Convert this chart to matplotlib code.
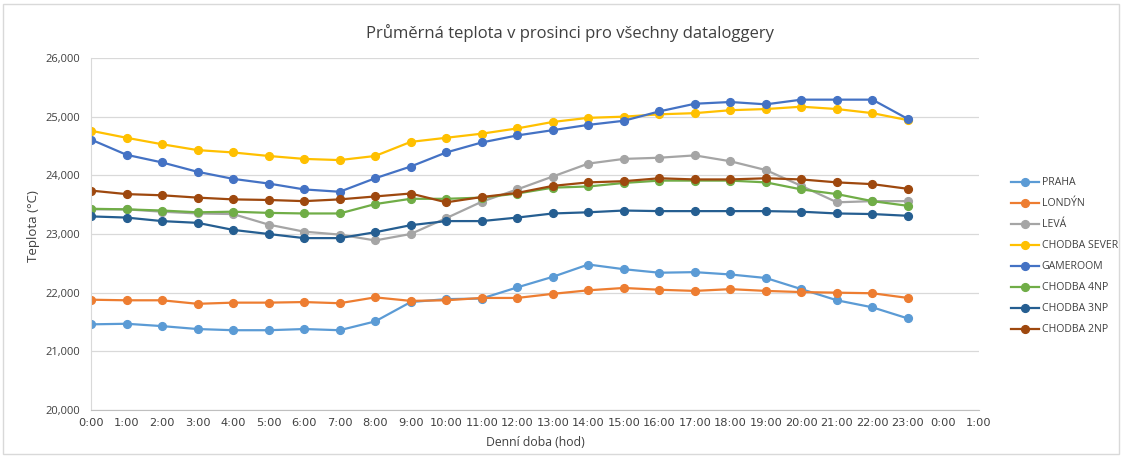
import matplotlib
matplotlib.use("Agg")
import matplotlib.pyplot as plt
from matplotlib.ticker import FixedLocator, FuncFormatter
from matplotlib.patches import Rectangle

HOURS = list(range(24))
TICK_POS = list(range(26))
TICK_LABELS = [f"{h % 24}:00" for h in TICK_POS]

SERIES_NAMES = ["PRAHA", "LONDÝN", "LEVÁ", "CHODBA SEVER", "GAMEROOM",
                "CHODBA 4NP", "CHODBA 3NP", "CHODBA 2NP"]
COLORS = ["#5B9BD5", "#ED7D31", "#A5A5A5", "#FFC000", "#4472C4",
          "#70AD47", "#255E91", "#9E480E"]

# prumerne teploty po hodinach (°C)
praha = [21.46, 21.47, 21.43, 21.38, 21.36, 21.36, 21.38, 21.36, 21.51, 21.84, 21.89, 21.90,
         22.09, 22.27, 22.48, 22.40, 22.34, 22.35, 22.31, 22.25, 22.06, 21.87, 21.75, 21.56]
londyn = [21.88, 21.87, 21.87, 21.81, 21.83, 21.83, 21.84, 21.82, 21.92, 21.86, 21.87, 21.91,
          21.91, 21.98, 22.04, 22.08, 22.05, 22.03, 22.06, 22.03, 22.01, 22.00, 21.99, 21.91]
leva = [23.42, 23.42, 23.38, 23.35, 23.34, 23.16, 23.04, 22.99, 22.89, 23.00, 23.27, 23.55,
        23.76, 23.98, 24.20, 24.28, 24.30, 24.34, 24.24, 24.09, 23.82, 23.54, 23.56, 23.56]
sever = [24.76, 24.64, 24.53, 24.43, 24.39, 24.33, 24.28, 24.26, 24.33, 24.57, 24.64, 24.71,
         24.80, 24.91, 24.98, 25.00, 25.04, 25.06, 25.11, 25.13, 25.17, 25.13, 25.06, 24.94]
gameroom = [24.61, 24.35, 24.22, 24.06, 23.94, 23.86, 23.76, 23.72, 23.95, 24.15, 24.39, 24.56,
            24.68, 24.77, 24.86, 24.93, 25.09, 25.22, 25.25, 25.21, 25.29, 25.29, 25.29, 24.96]
chodba4 = [23.43, 23.42, 23.40, 23.37, 23.38, 23.36, 23.35, 23.35, 23.51, 23.60, 23.60, 23.62,
           23.69, 23.79, 23.81, 23.87, 23.91, 23.91, 23.91, 23.88, 23.76, 23.68, 23.56, 23.48]
chodba3 = [23.30, 23.28, 23.22, 23.19, 23.07, 23.00, 22.93, 22.93, 23.03, 23.15, 23.22, 23.22,
           23.28, 23.35, 23.37, 23.40, 23.39, 23.39, 23.39, 23.39, 23.38, 23.35, 23.34, 23.31]
chodba2 = [23.74, 23.68, 23.66, 23.62, 23.59, 23.58, 23.56, 23.59, 23.64, 23.69, 23.54, 23.63,
           23.70, 23.82, 23.88, 23.90, 23.95, 23.93, 23.93, 23.95, 23.93, 23.88, 23.85, 23.77]

ALL_SERIES = [praha, londyn, leva, sever, gameroom, chodba4, chodba3, chodba2]

W, H = 1122, 458
fig = plt.figure(figsize=(W / 100, H / 100), dpi=100)
ax = fig.add_axes([91 / W, 1 - 410 / H, (979 - 91) / W, (410 - 58) / H])

for name, vals, col in zip(SERIES_NAMES, ALL_SERIES, COLORS):
    ax.plot(HOURS, vals, color=col, lw=1.6, marker="o", ms=5.6, label=name,
            solid_joinstyle="round")

ax.set_xlim(0, 25)
ax.set_ylim(20, 26)
ax.xaxis.set_major_locator(FixedLocator(TICK_POS))
ax.set_xticklabels(TICK_LABELS, family=["Liberation Sans Narrow", "DejaVu Sans"],
                   fontsize=8.2, color="#404040")
ax.yaxis.set_major_locator(FixedLocator([20, 21, 22, 23, 24, 25, 26]))
ax.yaxis.set_major_formatter(FuncFormatter(lambda v, p: f"{v:.3f}".replace(".", ",")))
for lab in ax.get_yticklabels():
    lab.set_family("Open Sans")
    lab.set_fontsize(8)
    lab.set_color("#404040")
ax.tick_params(axis="y", length=0, pad=8)
ax.tick_params(axis="x", length=0, pad=5.5)
ax.grid(axis="y", color="#D9D9D9", lw=0.9)
ax.set_axisbelow(True)
for s in ["top", "right"]:
    ax.spines[s].set_visible(False)
ax.spines["left"].set_color("#D9D9D9")
ax.spines["bottom"].set_color("#BFBFBF")

fig.text(570 / W, 1 - 33 / H, "Průměrná teplota v prosinci pro všechny dataloggery",
         ha="center", va="center", family="Open Sans", fontsize=12, color="#404040")
fig.text(535 / W, 1 - 442 / H, "Denní doba (hod)", ha="center", va="center",
         family="Open Sans", fontsize=8.8, color="#404040")
fig.text(33 / W, 1 - 226 / H, "Teplota (°C)", ha="center", va="center", rotation=90,
         family="Open Sans", fontsize=9.5, color="#404040")

leg = fig.legend(loc="upper left", bbox_to_anchor=(1007 / W, 1 - 173 / H), frameon=False,
                 prop={"family": "Open Sans", "size": 7.6}, handlelength=2.6,
                 labelspacing=0.95, handletextpad=0.3, borderaxespad=0)
for t in leg.get_texts():
    t.set_color("#404040")

fig.patches.append(Rectangle((3 / W, 4 / H), (W - 6) / W, (H - 8) / H,
                             transform=fig.transFigure, fill=False,
                             edgecolor="#D9D9D9", lw=1))

fig.savefig("out.png", dpi=100)
